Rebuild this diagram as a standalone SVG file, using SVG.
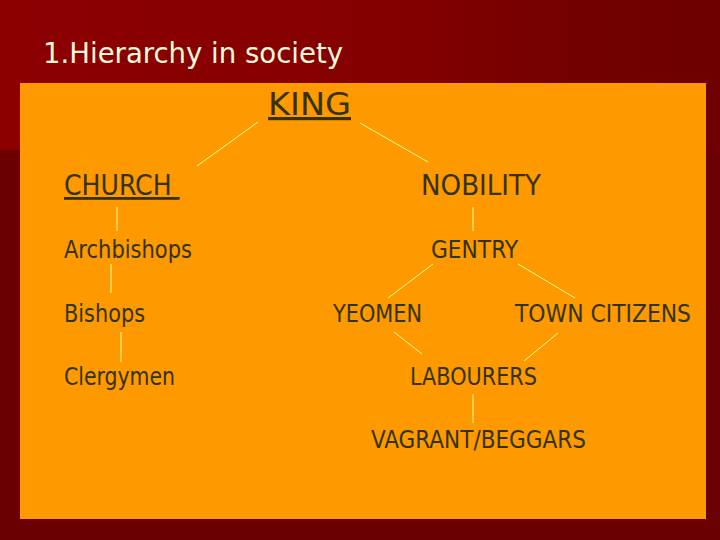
<svg xmlns="http://www.w3.org/2000/svg" width="720" height="540" viewBox="0 0 720 540">
<defs>
<linearGradient id="topg" x1="0" y1="0" x2="1" y2="0">
<stop offset="0" stop-color="#8c0000"/>
<stop offset="0.55" stop-color="#840000"/>
<stop offset="0.8" stop-color="#730000"/>
<stop offset="1" stop-color="#6e0000"/>
</linearGradient>
</defs>
<style>
text{font-family:"DejaVu Sans Condensed","DejaVu Sans",Tahoma,sans-serif;fill:#333300}
.s{font-size:24px}
.m{font-size:28px}
.l{font-size:32px}
.u{text-decoration:underline}
.t{font-size:28px;fill:#fff8dc}
#connectors line{stroke:#ffff99;stroke-width:1}
</style>
<rect x="0" y="0" width="720" height="540" fill="#6b0000"/>
<rect x="0" y="0" width="720" height="150" fill="url(#topg)"/>
<rect x="20" y="83" width="686" height="436" fill="#ff9900"/>
<g id="title"><text class="t" x="43" y="63" textLength="300" lengthAdjust="spacingAndGlyphs">1.Hierarchy in society</text></g>
<g id="connectors">
<line x1="258" y1="122" x2="197" y2="166"/>
<line x1="360" y1="123" x2="428" y2="162"/>
<line x1="117" y1="207" x2="117" y2="231"/>
<line x1="111" y1="264" x2="111" y2="293"/>
<line x1="121" y1="332" x2="121" y2="362"/>
<line x1="473" y1="207" x2="473" y2="231"/>
<line x1="433" y1="264" x2="388" y2="298"/>
<line x1="518" y1="264" x2="575" y2="298"/>
<line x1="394" y1="332" x2="422" y2="354"/>
<line x1="558" y1="333" x2="524" y2="361"/>
<line x1="473" y1="394" x2="473" y2="423"/>
</g>
<g id="king"><text class="l u" x="268" y="115" textLength="83" lengthAdjust="spacingAndGlyphs">KING</text></g>
<g id="church"><text class="m u" x="64" y="195" xml:space="preserve">CHURCH </text></g>
<g id="nobility"><text class="m" x="421" y="195" textLength="120" lengthAdjust="spacingAndGlyphs">NOBILITY</text></g>
<g id="archbishops"><text class="s" x="64" y="258" textLength="128" lengthAdjust="spacingAndGlyphs">Archbishops</text></g>
<g id="gentry"><text class="s" x="431" y="258" textLength="87" lengthAdjust="spacingAndGlyphs">GENTRY</text></g>
<g id="bishops"><text class="s" x="64" y="322" textLength="81" lengthAdjust="spacingAndGlyphs">Bishops</text></g>
<g id="yeomen"><text class="s" x="333" y="322" textLength="89" lengthAdjust="spacingAndGlyphs">YEOMEN</text></g>
<g id="town"><text class="s" x="515" y="322" textLength="176" lengthAdjust="spacingAndGlyphs">TOWN CITIZENS</text></g>
<g id="clergymen"><text class="s" x="64" y="385" textLength="111" lengthAdjust="spacingAndGlyphs">Clergymen</text></g>
<g id="labourers"><text class="s" x="410" y="385" textLength="127" lengthAdjust="spacingAndGlyphs">LABOURERS</text></g>
<g id="vagrant"><text class="s" x="371" y="448" textLength="215" lengthAdjust="spacingAndGlyphs">VAGRANT/BEGGARS</text></g>
</svg>
